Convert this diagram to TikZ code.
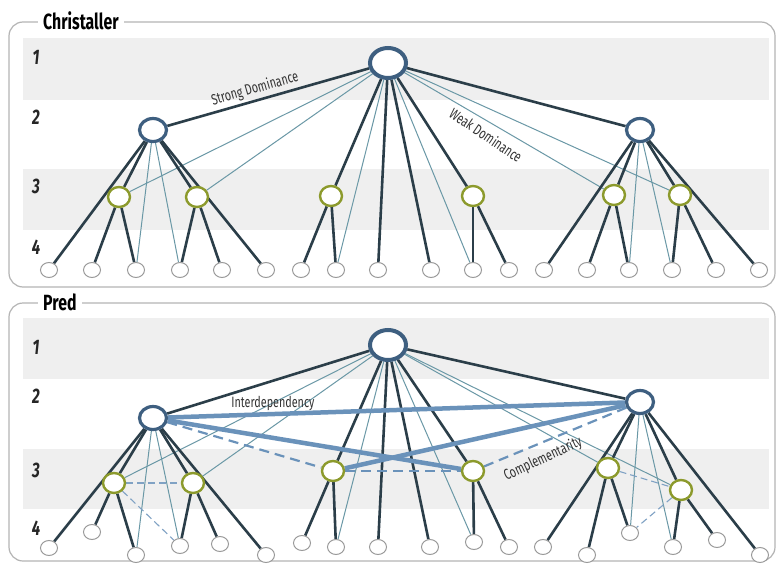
\documentclass[tikz,border=0pt]{standalone}
\usepackage{fontspec}
\newfontfamily\condfont[FakeStretch=0.72]{Fira Sans}
\usetikzlibrary{shapes.geometric}
\definecolor{darkline}{HTML}{2B3E49}
\definecolor{thinline}{HTML}{6A98A6}
\definecolor{topnode}{HTML}{3E5F80}
\definecolor{olive}{HTML}{8C9A2C}
\definecolor{leafgray}{HTML}{9A9A9A}
\definecolor{bluelink}{HTML}{6A92BA}
\definecolor{bandgray}{HTML}{EFEFEF}
\definecolor{framegray}{HTML}{B4B4B4}
\pgfdeclarelayer{bands}
\pgfdeclarelayer{edges}
\pgfsetlayers{bands,edges,main}
\tikzset{
  lvlone/.style={ellipse,draw=topnode,line width=4pt,fill=white,minimum width=36pt,minimum height=30pt,inner sep=0pt},
  lvltwo/.style={ellipse,draw=topnode,line width=3.2pt,fill=white,minimum width=27pt,minimum height=23pt,inner sep=0pt},
  lvlthree/.style={ellipse,draw=olive,line width=2.4pt,fill=white,minimum width=22pt,minimum height=20pt,inner sep=0pt},
  lvlfour/.style={ellipse,draw=leafgray,line width=1pt,fill=white,minimum width=17pt,minimum height=15pt,inner sep=0pt},
  thk/.style={draw=darkline,line width=2.6pt},
  thn/.style={draw=thinline,line width=1pt},
  bluethick/.style={draw=bluelink,line width=4.5pt},
  bluedash/.style={draw=bluelink,line width=2.2pt,dash pattern=on 10pt off 6pt},
  bluethin/.style={draw=bluelink!85,line width=1.1pt,dash pattern=on 7pt off 4pt},
  band/.style={fill=bandgray,draw=none},
  frame/.style={draw=framegray,line width=1.2pt,rounded corners=14pt},
  title/.style={fill=white,inner xsep=5pt,inner ysep=1pt,anchor=west,font=\condfont\bfseries\fontsize{22}{23}\selectfont},
  lvlnum/.style={font=\condfont\bfseries\itshape\fontsize{21}{22}\selectfont,text=black!85},
  lbl/.style={font=\condfont\fontsize{15}{16}\selectfont,text=black!80,inner sep=1pt}
}
\begin{document}
\begin{tikzpicture}[x=1pt,y=-1pt]
\useasboundingbox (0,0) rectangle (777,565);
\begin{pgfonlayer}{bands}
\fill[white] (0,0) rectangle (777,565);
\path[band] (23,38) rectangle (769,100);
\path[band] (23,169) rectangle (769,230);
\path[band] (23,318) rectangle (769,379);
\path[band] (23,449) rectangle (769,509);
\end{pgfonlayer}
\draw[frame] (9,22) rectangle (775,287);
\draw[frame] (9,303) rectangle (775,561);
\node[title] (tchr) at (38,21) {Christaller};
\node[title] (tpred) at (38,302) {Pred};
% level numbers
\node[lvlnum] (n1a) at (36,57) {1};
\node[lvlnum] (n2a) at (36,117) {2};
\node[lvlnum] (n3a) at (36,186) {3};
\node[lvlnum] (n4a) at (36,247) {4};
\node[lvlnum] (n1b) at (36,347) {1};
\node[lvlnum] (n2b) at (36,396) {2};
\node[lvlnum] (n3b) at (36,470) {3};
\node[lvlnum] (n4b) at (36,528) {4};
% ---------- top panel nodes
\node[lvlone] (T1) at (388,63) {};
\node[lvltwo] (T2a) at (153,130) {};
\node[lvltwo] (T2b) at (640,130) {};
\node[lvlthree] (T3a) at (119,197) {};
\node[lvlthree] (T3b) at (197,197) {};
\node[lvlthree] (T3c) at (331,196) {};
\node[lvlthree] (T3d) at (473,196) {};
\node[lvlthree] (T3e) at (614,195) {};
\node[lvlthree] (T3f) at (680,195) {};
\foreach \x [count=\i] in {49,92,136,180,222,266,301,336,378,431,473,509,544,587,629,672,716,759}
  \node[lvlfour] (T4-\i) at (\x,270) {};
% ---------- bottom panel nodes
\node[lvlone] (B1) at (388,345) {};
\node[lvltwo] (B2a) at (153,418) {};
\node[lvltwo] (B2b) at (640,402) {};
\node[lvlthree] (B3a) at (114,483) {};
\node[lvlthree] (B3b) at (193,483) {};
\node[lvlthree] (B3c) at (333,471) {};
\node[lvlthree] (B3d) at (473,471) {};
\node[lvlthree] (B3e) at (608,468) {};
\node[lvlthree] (B3f) at (681,490) {};
\foreach \x/\y [count=\i] in {49/548,92/532,136/555,180/546,220/544,266/555,302/543,336/547,378/547,430/547,474/542,509/547,543/547,587/555,630/533,673/547,717/540,760/555}
  \node[lvlfour] (B4-\i) at (\x,\y) {};
% ---------- edges
\begin{pgfonlayer}{edges}
\foreach \P in {T,B}{
  % thin
  \foreach \a/\b in {1/3a,1/3b,1/3e,1/3f,1/4-8,1/4-11,2a/4-3,2a/4-4,2b/4-15,2b/4-16}
    \draw[thn] (\P\a) -- (\P\b);
  % thick
  \foreach \a/\b in {1/2a,1/2b,1/3c,1/3d,1/4-9,1/4-10,
     2a/4-1,2a/3a,2a/3b,2a/4-6,3a/4-2,3a/4-3,3b/4-4,3b/4-5,
     3c/4-7,3c/4-8,3d/4-11,3d/4-12,
     2b/4-13,2b/3e,2b/3f,2b/4-18,3e/4-14,3e/4-15,3f/4-16,3f/4-17}
    \draw[thk] (\P\a) -- (\P\b);
}
% Pred extra links
\draw[bluethin] (B3a) -- (B3b);
\draw[bluethin] (B3a) -- (B4-4);
\draw[bluethin] (B3e) -- (B3f);
\draw[bluethin] (B3f) -- (B4-15);
\draw[bluedash] (B2a) -- (B3c);
\draw[bluedash] (B3c) -- (B3d);
\draw[bluedash] (B3d) -- (B2b);
\draw[bluethick] (B2a) -- (B2b);
\draw[bluethick] (B2a) -- (B3d);
\draw[bluethick] (B2b) -- (B3c);
\end{pgfonlayer}
% ---------- labels
\node[lbl,rotate=16] (lsd) at (255,89) {Strong Dominance};
\node[lbl,rotate=-34] (lwd) at (486,135) {Weak Dominance};
\node[lbl] (lint) at (273,403) {Interdependency};
\node[lbl,rotate=25] (lcomp) at (543,459) {Complementarity};
\end{tikzpicture}
\end{document}
